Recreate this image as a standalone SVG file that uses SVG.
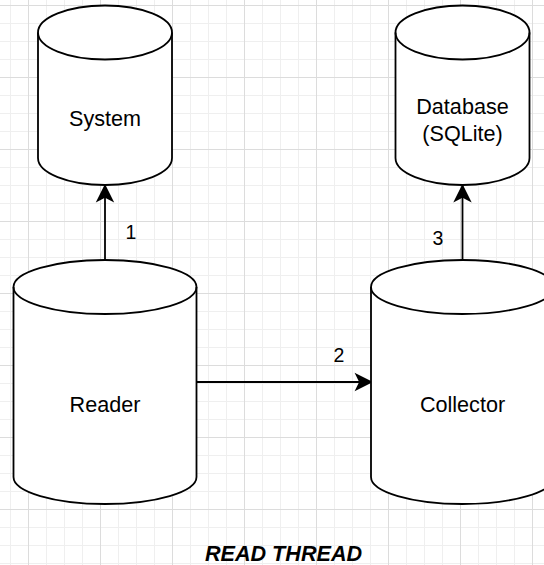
<svg xmlns="http://www.w3.org/2000/svg" width="544" height="565" viewBox="0 0 544 565">
  <style>
    .shape { fill: #ffffff; stroke: #000000; stroke-width: 1.8; }
    .inner { fill: none; stroke: #000000; stroke-width: 1.8; }
    .lbl { font-family: "Liberation Sans", Arial, sans-serif; font-size: 21.6px; fill: #000000; text-anchor: middle; }
    .elbl { font-family: "Liberation Sans", Arial, sans-serif; font-size: 19.5px; fill: #000000; text-anchor: middle; }
    .title { font-family: "Liberation Sans", Arial, sans-serif; font-size: 21.6px; font-weight: bold; font-style: italic; fill: #000000; text-anchor: middle; }
    .edge { fill: none; stroke: #000000; stroke-width: 1.8; }
  </style>
  <defs>
    <pattern id="minor" width="18" height="18" patternUnits="userSpaceOnUse" x="10" y="5">
      <path d="M0 0.5H18M0.5 0V18" stroke="#efefef" stroke-width="1" fill="none"/>
    </pattern>
    <pattern id="major" width="72" height="72" patternUnits="userSpaceOnUse" x="28" y="5">
      <path d="M0 0.5H72M0.5 0V72" stroke="#dcdcdc" stroke-width="1" fill="none"/>
    </pattern>
    <marker id="arrow" viewBox="0 -8 16 16" refX="14.4" refY="0" markerWidth="16" markerHeight="16" markerUnits="userSpaceOnUse" orient="auto" overflow="visible">
      <path d="M0,-7.2 L14.4,0 L0,7.2 L3.6,0 Z" fill="#000000" stroke="#000000" stroke-width="1.8" stroke-linejoin="miter"/>
    </marker>
  </defs>
  <rect x="0" y="0" width="544" height="565" fill="#ffffff"/>
  <rect x="0" y="0" width="544" height="565" fill="url(#minor)"/>
  <rect x="0" y="0" width="544" height="565" fill="url(#major)"/>

  <g id="connectors">
    <path class="edge" d="M105,260 V186" marker-end="url(#arrow)"/>
    <path class="edge" d="M196.5,382 H371" marker-end="url(#arrow)"/>
    <path class="edge" d="M462.5,260 V186" marker-end="url(#arrow)"/>
    <text class="elbl" x="131" y="239">1</text>
    <text class="elbl" x="339" y="361.5">2</text>
    <text class="elbl" x="438" y="245">3</text>
  </g>

  <g id="system">
    <path class="shape" d="M38,32.5 A67,27 0 0 1 172,32.5 V158 A67,27 0 0 1 38,158 Z"/>
    <path class="inner" d="M38,32.5 A67,27 0 0 0 172,32.5"/>
    <text class="lbl" x="105" y="126">System</text>
  </g>

  <g id="database">
    <path class="shape" d="M395.5,32.5 A67,27 0 0 1 529.5,32.5 V158 A67,27 0 0 1 395.5,158 Z"/>
    <path class="inner" d="M395.5,32.5 A67,27 0 0 0 529.5,32.5"/>
    <text class="lbl" x="462.5" y="114">Database</text>
    <text class="lbl" x="462.5" y="141">(SQLite)</text>
  </g>

  <g id="reader">
    <path class="shape" d="M13.5,287 A91.5,27 0 0 1 196.5,287 V477 A91.5,27 0 0 1 13.5,477 Z"/>
    <path class="inner" d="M13.5,287 A91.5,27 0 0 0 196.5,287"/>
    <text class="lbl" x="105" y="412">Reader</text>
  </g>

  <g id="collector">
    <path class="shape" d="M371,287 A91.5,27 0 0 1 554,287 V477 A91.5,27 0 0 1 371,477 Z"/>
    <path class="inner" d="M371,287 A91.5,27 0 0 0 554,287"/>
    <text class="lbl" x="462.5" y="412">Collector</text>
  </g>

  <g id="title">
    <text class="title" x="283.5" y="560.5">READ THREAD</text>
  </g>
</svg>
